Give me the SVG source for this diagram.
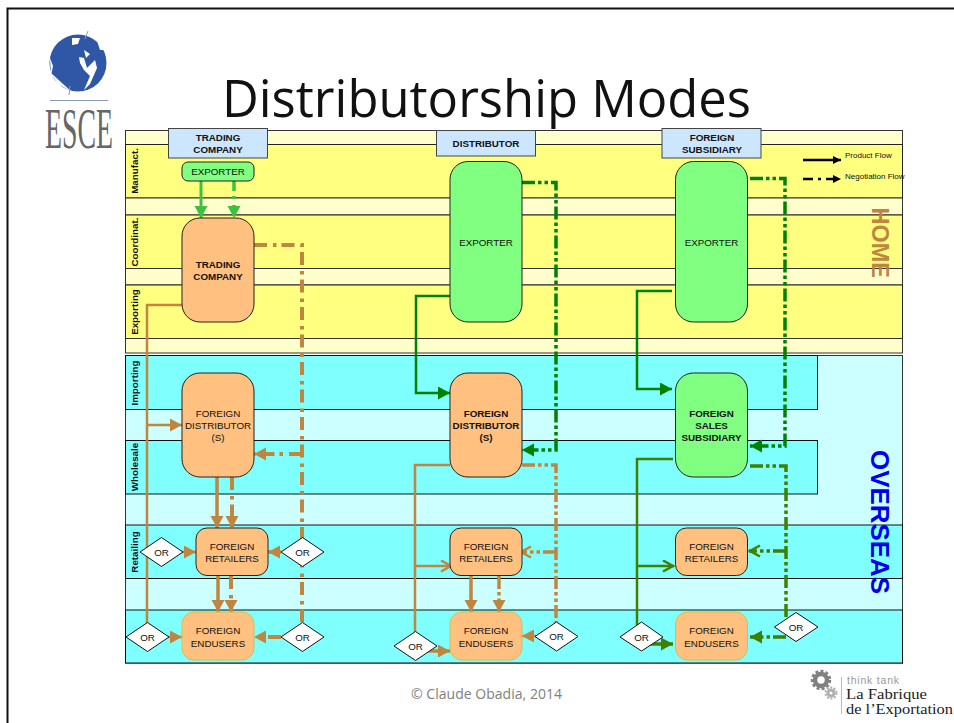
<svg xmlns="http://www.w3.org/2000/svg" width="954" height="723" viewBox="0 0 954 723">
<style>
text{font-family:"Liberation Sans",Arial,sans-serif;fill:#111}
.y{fill:#ffff80;stroke:#222;stroke-width:1}
.p{fill:#ffffcc;stroke:#333;stroke-width:1}
.c{fill:#80ffff;stroke:#111;stroke-width:1}
.q{fill:#ccffff;stroke:#333;stroke-width:1}
.hd{fill:#cce6ff;stroke:#444;stroke-width:1}
.or{fill:#ffc080;stroke:#222;stroke-width:1}
.gn{fill:#80ff80;stroke:#222;stroke-width:1}
.en{fill:#ffc080;stroke:#d0c050;stroke-width:1}
.d{fill:#fff;stroke:#111;stroke-width:1}
.t{font-size:9.800px;text-anchor:middle}
.b{font-weight:bold}
.l{font-size:9.800px;font-weight:bold;text-anchor:middle}
.w{fill:none;stroke-width:3.500}
.s{fill:none;stroke-width:2.500}
.dd{fill:none;stroke-width:4;stroke-dasharray:13 6 3.500 5}
.d2{fill:none;stroke-width:3.500;stroke-dasharray:13 3 3.500 3 3.500 3}
.br{stroke:#c0853f}.gr{stroke:#008000}.ol{stroke:#408000}.lg{stroke:#40c040}
</style>
<defs>
<marker id="aB" markerUnits="userSpaceOnUse" markerWidth="14" markerHeight="14" refX="12" refY="6.5" orient="auto"><path d="M0 0L12 6.5L0 13Z" fill="#c0853f"/></marker>
<marker id="aG" markerUnits="userSpaceOnUse" markerWidth="14" markerHeight="14" refX="12" refY="6.5" orient="auto"><path d="M0 0L12 6.5L0 13Z" fill="#008000"/></marker>
<marker id="aO" markerUnits="userSpaceOnUse" markerWidth="14" markerHeight="14" refX="12" refY="6.5" orient="auto"><path d="M0 0L12 6.5L0 13Z" fill="#408000"/></marker>
<marker id="aL" markerUnits="userSpaceOnUse" markerWidth="14" markerHeight="14" refX="12" refY="6.5" orient="auto"><path d="M0 0L12 6.5L0 13Z" fill="#40c040"/></marker>
<marker id="aK" markerUnits="userSpaceOnUse" markerWidth="9" markerHeight="9" refX="8" refY="4" orient="auto"><path d="M0 0L8 4L0 8Z" fill="#000"/></marker>
<marker id="oB" markerUnits="userSpaceOnUse" markerWidth="14" markerHeight="14" refX="12" refY="6.5" orient="auto"><path d="M1 1L11 6.5L1 12" fill="none" stroke="#c0853f" stroke-width="2.5"/></marker>
<marker id="oO" markerUnits="userSpaceOnUse" markerWidth="14" markerHeight="14" refX="12" refY="6.5" orient="auto"><path d="M1 1L11 6.5L1 12" fill="none" stroke="#408000" stroke-width="2.5"/></marker>
</defs>
<rect width="954" height="723" fill="#fff"/>
<path d="M954 8.500H7.500V723" fill="none" stroke="#111" stroke-width="2"/>

<g id="logo-esce">
<circle cx="78" cy="63" r="28.500" fill="#2f57a5"/>
<path d="M72 38L80 38L78 44L72 45ZM84 50L90 54L86 58ZM79 57L84 58L87 68L95 60L97 68L90 84L84 90L90 76L84 70L80 63ZM96 38L107 50L100 50ZM50 58L53 66L51 76ZM63 84L50 72L58 84L72 92Z" fill="#fff"/>
<path d="M88 31L85 39M70 86L69 95" stroke="#8a9bb8" stroke-width="1" fill="none"/>
<path d="M50 100.500H108" stroke="#8a9bb8" stroke-width="1"/>
<text x="45" y="147.500" font-size="56" textLength="68" lengthAdjust="spacingAndGlyphs" style="font-family:'Liberation Serif',serif;fill:#666">ESCE</text>
</g>

<text id="title" x="222" y="117" font-size="50.500" textLength="529" lengthAdjust="spacingAndGlyphs" style="font-family:'Open Sans',sans-serif;fill:#111">Distributorship Modes</text>

<g id="bands">
<rect class="p" x="125.500" y="130.500" width="777" height="14"/>
<rect class="y" x="125.500" y="144.500" width="777" height="53.500"/>
<rect class="p" x="125.500" y="198" width="777" height="17"/>
<rect class="y" x="125.500" y="215" width="777" height="53.500"/>
<rect class="p" x="125.500" y="268.500" width="777" height="16.500"/>
<rect class="y" x="125.500" y="285" width="777" height="53.500"/>
<rect class="p" x="125.500" y="338.500" width="777" height="14.500"/>
<rect class="q" x="125.500" y="355.500" width="777" height="307.500"/>
<rect class="c" x="125.500" y="355.500" width="692" height="54"/>
<rect class="c" x="125.500" y="440.500" width="692" height="53.500"/>
<rect class="c" x="125.500" y="525" width="777" height="53.500"/>
<rect class="c" x="125.500" y="610" width="777" height="53"/>
</g>
<g id="lane-labels">
<text class="l" transform="translate(138,171) rotate(-90)">Manufact.</text>
<text class="l" transform="translate(138,242) rotate(-90)">Coordinat.</text>
<text class="l" transform="translate(138,312) rotate(-90)">Exporting</text>
<text class="l" transform="translate(138,383) rotate(-90)">Importing</text>
<text class="l" transform="translate(138,467) rotate(-90)">Wholesale</text>
<text class="l" transform="translate(138,552) rotate(-90)">Retailing</text>
</g>
<text id="home" transform="translate(871.500,207.500) rotate(90)" font-size="23" font-weight="bold" textLength="70.500" lengthAdjust="spacingAndGlyphs" style="fill:#c0853f">HOME</text>
<text id="overseas" transform="translate(870.500,450) rotate(90)" font-size="26" font-weight="bold" textLength="144" lengthAdjust="spacingAndGlyphs" style="fill:#0000ee">OVERSEAS</text>

<g id="connectors">
<path class="s lg" d="M201 181V218" marker-end="url(#aL)" style="stroke-width:3"/>
<path class="w lg" d="M234 181V218" stroke-dasharray="10 5 3 6" marker-end="url(#aL)"/>
<path class="dd br" d="M254 245H302V622"/>
<path class="dd br" d="M302 454H254" marker-end="url(#aB)"/>
<path class="w br" d="M281 552H268" marker-end="url(#aB)"/>
<path class="dd br" d="M281 637H254" marker-end="url(#aB)"/>
<path class="s br" d="M182 305H147V625"/>
<path class="s br" d="M147 425H182" marker-end="url(#aB)"/>
<path class="s br" d="M180 552H196" marker-end="url(#aB)"/>
<path class="s br" d="M166 637H182" marker-end="url(#aB)"/>
<path class="w br" d="M217 477V528" marker-end="url(#aB)"/>
<path class="dd br" d="M232 477V528" marker-end="url(#aB)"/>
<path class="w br" d="M218 576V612" marker-end="url(#aB)"/>
<path class="dd br" d="M231 576V612" marker-end="url(#aB)"/>

<path class="s gr" d="M450 296H416V393H450" marker-end="url(#aG)"/>
<path class="d2 gr" d="M522 182.500H556V450H522" marker-end="url(#aG)"/>
<path class="d2 br" d="M522 465H556V624"/>
<path class="d2 br" d="M556 552H520" marker-end="url(#oB)"/>
<path class="s br" d="M536 636H522" marker-end="url(#aB)"/>
<path class="s br" d="M450 465H415V632"/>
<path class="s br" d="M415 566H452" marker-end="url(#oB)"/>
<path class="w br" d="M425 651H450" marker-end="url(#aB)"/>
<path class="w br" d="M471 576V612" marker-end="url(#aB)"/>
<path class="d2 br" d="M499 576V612" marker-end="url(#aB)"/>

<path class="s gr" d="M672 291H637V389H672" marker-end="url(#aG)"/>
<path class="d2 gr" d="M750 178.500H785V446H750" marker-end="url(#aG)"/>
<path class="d2 ol" d="M750 466H786V620"/>
<path class="d2 ol" d="M786 551H749" marker-end="url(#oO)"/>
<path class="d2 ol" d="M786 637H750" marker-end="url(#aO)"/>
<path class="s ol" d="M673 459H637V625"/>
<path class="s ol" d="M637 566H674" marker-end="url(#oO)"/>
<path class="w ol" d="M650 644H673" marker-end="url(#aO)"/>

<path d="M803 160H841" stroke="#000" stroke-width="2.500" marker-end="url(#aK)"/>
<path d="M803 179H841" stroke="#000" stroke-width="2.500" stroke-dasharray="10 5 3 5" marker-end="url(#aK)"/>
</g>
<g id="legend">
<text x="845" y="158" font-size="8">Product Flow</text>
<text x="845" y="179" font-size="8">Negotiation Flow</text>
</g>

<g id="hdr-trading"><rect class="hd" x="168.500" y="128.500" width="99" height="29.500"/><text class="t b" x="218" y="141">TRADING</text><text class="t b" x="218" y="153">COMPANY</text></g>
<g id="hdr-distributor"><rect class="hd" x="436.500" y="130.500" width="99" height="25.500"/><text class="t b" x="486" y="147">DISTRIBUTOR</text></g>
<g id="hdr-subsidiary"><rect class="hd" x="662" y="128.500" width="99" height="29.500"/><text class="t b" x="712" y="141">FOREIGN</text><text class="t b" x="712" y="153">SUBSIDIARY</text></g>

<g id="exporter-small"><rect class="gn" x="182" y="162" width="72" height="19" rx="6"/><text class="t" x="218" y="175">EXPORTER</text></g>
<g id="trading-company"><rect class="or" x="182" y="218" width="72" height="104" rx="18"/><text class="t b" x="218" y="268">TRADING</text><text class="t b" x="218" y="280">COMPANY</text></g>
<g id="exporter-dist"><rect class="gn" x="450" y="161.500" width="72" height="160.500" rx="18"/><text class="t" x="486" y="246">EXPORTER</text></g>
<g id="exporter-sub"><rect class="gn" x="675.500" y="161.500" width="72" height="160.500" rx="18"/><text class="t" x="711.500" y="246">EXPORTER</text></g>

<g id="foreign-dist-1"><rect class="or" x="182" y="373" width="72" height="104" rx="18"/><text class="t" x="218" y="417">FOREIGN</text><text class="t" x="218" y="429">DISTRIBUTOR</text><text class="t" x="218" y="441">(S)</text></g>
<g id="foreign-dist-2"><rect class="or" x="450" y="373" width="72" height="104" rx="18"/><text class="t b" x="486" y="417">FOREIGN</text><text class="t b" x="486" y="429">DISTRIBUTOR</text><text class="t b" x="486" y="441">(S)</text></g>
<g id="foreign-sales"><rect class="gn" x="675.500" y="373" width="72" height="104" rx="18"/><text class="t b" x="711.500" y="417">FOREIGN</text><text class="t b" x="711.500" y="429">SALES</text><text class="t b" x="711.500" y="441">SUBSIDIARY</text></g>

<g id="retailers-1"><rect class="or" x="196" y="528" width="72" height="47.500" rx="11"/><text class="t" x="232" y="550">FOREIGN</text><text class="t" x="232" y="562">RETAILERS</text></g>
<g id="retailers-2"><rect class="or" x="450" y="528" width="72" height="47.500" rx="11"/><text class="t" x="486" y="550">FOREIGN</text><text class="t" x="486" y="562">RETAILERS</text></g>
<g id="retailers-3"><rect class="or" x="675.500" y="528" width="72" height="47.500" rx="11"/><text class="t" x="711.500" y="550">FOREIGN</text><text class="t" x="711.500" y="562">RETAILERS</text></g>

<g id="endusers-1"><rect class="en" x="182" y="612" width="72" height="48" rx="12"/><text class="t" x="218" y="634">FOREIGN</text><text class="t" x="218" y="647">ENDUSERS</text></g>
<g id="endusers-2"><rect class="en" x="450" y="612" width="72" height="48" rx="12"/><text class="t" x="486" y="634">FOREIGN</text><text class="t" x="486" y="647">ENDUSERS</text></g>
<g id="endusers-3"><rect class="en" x="675.500" y="612" width="72" height="48" rx="12"/><text class="t" x="711.500" y="634">FOREIGN</text><text class="t" x="711.500" y="647">ENDUSERS</text></g>

<g id="or-1"><path class="d" d="M140 552L161.500 537.500L183 552L161.500 566.500Z"/><text class="t" x="161.500" y="555.500">OR</text></g>
<g id="or-2"><path class="d" d="M281 552L302.500 537.500L324 552L302.500 566.500Z"/><text class="t" x="302.500" y="555.500">OR</text></g>
<g id="or-3"><path class="d" d="M126 637L147.500 622.500L169 637L147.500 651.500Z"/><text class="t" x="147.500" y="640.500">OR</text></g>
<g id="or-4"><path class="d" d="M281 637L302.500 622.500L324 637L302.500 651.500Z"/><text class="t" x="302.500" y="640.500">OR</text></g>
<g id="or-5"><path class="d" d="M394 646L415.500 631.500L437 646L415.500 660.500Z"/><text class="t" x="415.500" y="649.500">OR</text></g>
<g id="or-6"><path class="d" d="M535 636.500L556.500 622L578 636.500L556.500 651Z"/><text class="t" x="556.500" y="640">OR</text></g>
<g id="or-7"><path class="d" d="M620 637L641.500 622L663 637L641.500 651Z"/><text class="t" x="641.500" y="640.500">OR</text></g>
<g id="or-8"><path class="d" d="M774.500 627L796 612.500L818 627L796 641.500Z"/><text class="t" x="796" y="630.500">OR</text></g>

<text id="copyright" x="411" y="699" font-size="14" textLength="151" style="font-family:'Open Sans',sans-serif;fill:#808080">© Claude Obadia, 2014</text>

<g id="logo-fabrique">
<circle cx="821" cy="680" r="6" fill="none" stroke="#808080" stroke-width="4.500"/>
<circle cx="821" cy="680" r="9" fill="none" stroke="#808080" stroke-width="2.500" stroke-dasharray="3 2.200"/>
<circle cx="831" cy="693" r="3" fill="none" stroke="#b0b0b0" stroke-width="3"/>
<circle cx="831" cy="693" r="5.500" fill="none" stroke="#b0b0b0" stroke-width="2" stroke-dasharray="2 1.500"/>
<path d="M841.500 677V714" stroke="#bbb"/>
<text x="847" y="684" font-size="10.500" textLength="52" style="fill:#999">think tank</text>
<text x="846" y="699" font-size="14.500" textLength="81" lengthAdjust="spacingAndGlyphs" style="font-family:'Liberation Serif',serif;fill:#222">La Fabrique</text>
<text x="846" y="714" font-size="14.500" textLength="107" lengthAdjust="spacingAndGlyphs" style="font-family:'Liberation Serif',serif;fill:#222">de l’Exportation</text>
</g>
</svg>
